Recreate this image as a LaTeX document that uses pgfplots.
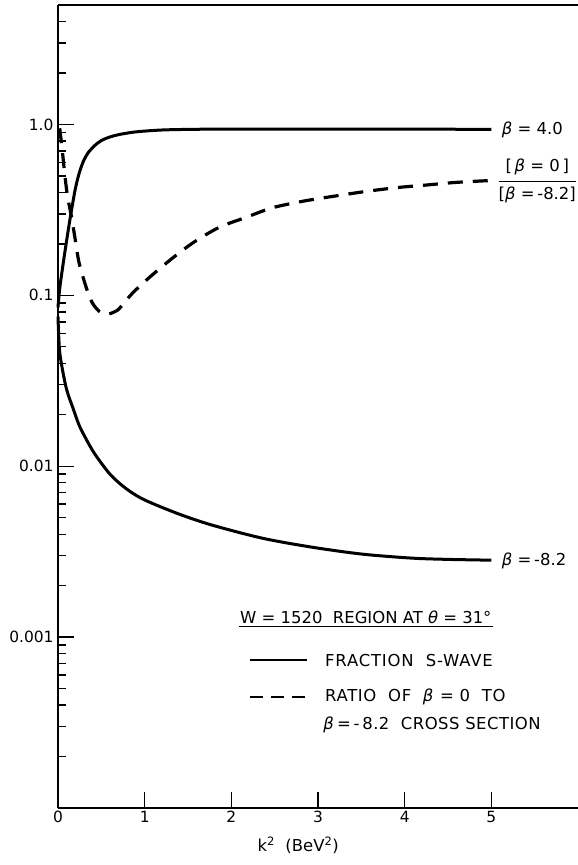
\documentclass[border=0pt]{standalone}
\usepackage{fontspec}
\setmainfont{DejaVu Sans}
\usepackage{pgfplots}
\pgfplotsset{compat=1.18}
\newcommand\B{\textit{β}}
\newcommand\lf{\fontsize{16.5}{19}\selectfont}
\begin{document}
\begin{tikzpicture}
\begin{axis}[
  scale only axis, width=520bp, height=803bp,
  xmin=0, xmax=6, ymode=log, ymin=1e-4, ymax=5,
  axis x line=box, axis y line=left,
  axis line style={-, line width=1.9bp},
  xtick={0,1,2,3,4,5}, xtick pos=bottom, ytick pos=left,
  ytick={0.001,0.01,0.1,1}, yticklabels={0.001,0.01,0.1,1.0},
  minor ytick={2e-4,3e-4,4e-4,5e-4,6e-4,7e-4,8e-4,9e-4,
               2e-3,3e-3,4e-3,5e-3,6e-3,7e-3,8e-3,9e-3,
               2e-2,3e-2,4e-2,5e-2,6e-2,7e-2,8e-2,9e-2,
               0.2,0.3,0.4,0.5,0.6,0.7,0.8,0.9,2,3,4},
  tick align=inside,
  major tick length=16bp, minor tick length=8bp,
  every tick/.style={black, line width=1.4bp},
  /pgf/number format/assume math mode=true,
  ticklabel style={font=\fontsize{15.5}{15.5}\selectfont},
  yticklabel style={xshift=-1bp},
  xlabel={k\textsuperscript{2}\ \ (BeV\textsuperscript{2})},
  xlabel style={at={(xticklabel cs:0.462)}, anchor=north, font=\lf, yshift=-7bp},
  clip=false,
]
% beta = 4.0 (solid upper)
\addplot[black, line width=3bp, smooth, tension=0.5] coordinates {
(0,0.085) (0.023,0.113) (0.08,0.18) (0.138,0.278) (0.2,0.42) (0.25,0.53)
(0.3,0.62) (0.35,0.685) (0.42,0.75) (0.5,0.805) (0.6,0.845) (0.71,0.874)
(0.9,0.905) (1.2,0.928) (1.6,0.937) (2.2,0.94) (3,0.94) (4,0.94) (5,0.935)};
% beta = -8.2 (solid lower)
\addplot[black, line width=3bp, smooth, tension=0.5] coordinates {
(0,0.075) (0.02,0.0464) (0.08,0.031) (0.12,0.026) (0.17,0.0221) (0.25,0.0171)
(0.37,0.0131) (0.45,0.0113) (0.6,0.00898) (0.75,0.00764) (0.9,0.00676)
(1.06,0.00615) (1.4,0.00524) (1.78,0.00452) (2.36,0.00379) (2.93,0.00336)
(3.51,0.00306) (4.08,0.0029) (4.5,0.00285) (5,0.00282)};
% ratio (dashed)
\addplot[black, line width=3.2bp, smooth, tension=0.5, dash pattern=on 15bp off 10bp] coordinates {
(0.02,0.95) (0.05,0.7) (0.08,0.5) (0.11,0.38) (0.16,0.28) (0.2,0.21) (0.25,0.15)
(0.37,0.096) (0.47,0.081) (0.56,0.0775) (0.65,0.08) (0.71,0.084) (0.86,0.103)
(1.06,0.128) (1.32,0.165) (1.57,0.205) (1.86,0.25) (2.17,0.286) (2.47,0.325)
(2.82,0.355) (3.18,0.38) (3.56,0.406) (3.93,0.428) (4.25,0.442) (4.59,0.458)
(5.0,0.47)};
% curve labels
\node[anchor=west, font=\lf, inner sep=0pt] at (axis cs:5.12,0.935) {\B\ = 4.0};
\node[anchor=west, font=\lf, inner sep=0pt] at (axis cs:5.12,0.0028) {\B\ =\,-8.2};
\node[font=\lf, inner sep=0pt] at (axis cs:5.53,0.46) {%
  \begin{tabular}{@{}c@{}}[\,\B\ = 0\,]\\[3pt]\hline\rule{0pt}{19pt}[\B\ =\,-8.2]\end{tabular}};
% legend
\node[font=\lf, inner sep=1pt, anchor=center] (lt) at (rel axis cs:0.592,0.238)
  {W = 1520\ \ REGION AT \textit{θ} = 31°};
\draw[line width=1.8bp] ([yshift=-2bp]lt.south west) -- ([yshift=-2bp]lt.south east);
\draw[line width=1.5bp] (rel axis cs:0.369,0.1843) -- (rel axis cs:0.479,0.1843);
\draw[line width=1.7bp, dash pattern=on 13bp off 8bp] (rel axis cs:0.369,0.138) -- (rel axis cs:0.479,0.138);
\node[font=\lf\addfontfeature{LetterSpace=5}, anchor=west, inner sep=0pt] at (rel axis cs:0.5135,0.1843) {FRACTION\ \ S-WAVE};
\node[font=\lf\addfontfeature{LetterSpace=4}, anchor=west, inner sep=0pt] at (rel axis cs:0.5135,0.138) {RATIO\ \ OF\ \ \B\ = 0\ \ TO};
\node[font=\lf\addfontfeature{LetterSpace=3}, anchor=west, inner sep=0pt] at (rel axis cs:0.510,0.1034) {\B\,=\,-\,8.2\ \ CROSS SECTION};
\end{axis}
\pgfresetboundingbox
\path (-58bp,-57bp) rectangle (520bp,808bp);
\end{tikzpicture}
\end{document}
